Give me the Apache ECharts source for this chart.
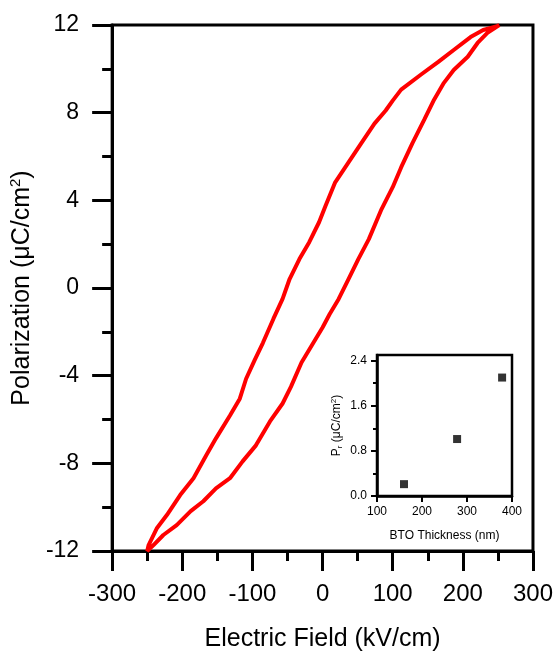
<!DOCTYPE html>
<html>
<head>
<meta charset="utf-8">
<script src="https://cdn.jsdelivr.net/npm/echarts@6/dist/echarts.min.js"></script>
<style>
html,body{margin:0;padding:0;background:#fff;}
#c{width:556px;height:657px;}
</style>
</head>
<body>
<div id="c"></div>
<script>
// Hysteresis loop: upper branch (field decreasing), then lower branch (field increasing)
var upperBranch = [
  [252,12.0],[249,11.95],[229,11.77],[211,11.45],[187,10.86],[165,10.32],[140,9.73],
  [112,9.05],[100,8.55],[90,8.1],[74,7.5],[56,6.64],[37,5.73],[18,4.82],[4,3.73],
  [-5,3.0],[-19,2.09],[-33,1.32],[-47,0.41],[-57,-0.5],[-70,-1.4],[-85,-2.5],
  [-97,-3.3],[-109,-4.14],[-118,-5.05],[-132,-5.82],[-152,-6.86],[-166,-7.64],
  [-184,-8.68],[-203,-9.45],[-222,-10.36],[-236,-10.95],[-248,-11.73],[-250,-12]
];
var lowerBranch = [
  [-250,-12],[-241,-11.73],[-227,-11.27],[-208,-10.82],[-188,-10.18],[-170,-9.73],
  [-152,-9.14],[-132,-8.68],[-114,-7.91],[-95,-7.18],[-75,-6.09],[-57,-5.27],
  [-45,-4.5],[-30,-3.4],[-15,-2.6],[0,-1.8],[10,-1.2],[23,-0.5],[37,0.41],[51,1.32],
  [66,2.23],[84,3.59],[100,4.6],[112,5.5],[128,6.6],[145,7.68],[159,8.59],[173,9.36],
  [187,9.95],[207,10.55],[221,11.18],[235,11.64],[252,12.0]
];
// Inset: remanent polarization vs BTO thickness
var thickness = [160, 278, 378];
var remanentP = [0.21, 1.01, 2.10];
var insetYMajor = [0, 0.8, 1.6, 2.4];
var insetYMinor = [0.4, 1.2, 2.0];

var FONT = 'Liberation Sans, Arial, sans-serif';
var chart = echarts.init(document.getElementById('c'), null, {renderer:'canvas'});
var loop = upperBranch.concat(lowerBranch);
var insetData = thickness.map(function(t,i){return [t, remanentP[i]];});

chart.setOption({
  animation:false,
  backgroundColor:'#fff',
  grid:[
    {left:108, top:25, width:426, height:528, show:true, borderColor:'#000', borderWidth:3},
    {left:377, top:355, width:135, height:141, show:true, borderColor:'#000', borderWidth:2.5}
  ],
  xAxis:[
    {type:'value', gridIndex:0, min:-300, max:300, interval:100, position:'bottom',
     axisLine:{show:true, onZero:false, lineStyle:{color:'#000', width:3}},
     axisTick:{show:true, inside:false, length:20, lineStyle:{color:'#000', width:3}},
     minorTick:{show:true, splitNumber:2, length:10, lineStyle:{color:'#000', width:3}},
     splitLine:{show:false},
     axisLabel:{fontSize:24, color:'#000', fontFamily:FONT, margin:31},
     name:'Electric Field (kV/cm)', nameLocation:'middle', nameGap:76,
     nameTextStyle:{fontSize:25, color:'#000', fontFamily:FONT}},
    {type:'value', gridIndex:1, min:100, max:400, interval:100, position:'bottom',
     axisLine:{show:true, onZero:false, lineStyle:{color:'#000', width:2.5}},
     axisTick:{show:true, inside:false, length:6, lineStyle:{color:'#000', width:2}},
     splitLine:{show:false},
     axisLabel:{fontSize:12, color:'#000', fontFamily:FONT, margin:10},
     name:'BTO Thickness (nm)', nameLocation:'middle', nameGap:34,
     nameTextStyle:{fontSize:12, color:'#000', fontFamily:FONT}}
  ],
  yAxis:[
    {type:'value', gridIndex:0, min:-12, max:12, interval:4, position:'left',
     axisLine:{show:true, onZero:false, lineStyle:{color:'#000', width:3}},
     axisTick:{show:true, inside:false, length:20, lineStyle:{color:'#000', width:3}},
     minorTick:{show:true, splitNumber:2, length:10, lineStyle:{color:'#000', width:3}},
     splitLine:{show:false},
     axisLabel:{fontSize:23, color:'#000', fontFamily:FONT, margin:33},
     name:'{a|Polarization (μC/cm}{s|2}{a|)}', nameLocation:'middle', nameGap:67,
     nameTextStyle:{fontSize:25, color:'#000', fontFamily:FONT,
       rich:{a:{fontSize:25, color:'#000', fontFamily:FONT},
             s:{fontSize:15, color:'#000', fontFamily:FONT, padding:[0,0,14,0]}}}},
    {type:'value', gridIndex:1, min:0, max:2.5, position:'left',
     axisLine:{show:true, onZero:false, lineStyle:{color:'#000', width:2.5}},
     axisTick:{show:true, inside:false, length:6, customValues:insetYMajor, lineStyle:{color:'#000', width:2}},
     splitLine:{show:false},
     axisLabel:{fontSize:12, color:'#000', fontFamily:FONT, margin:10, customValues:insetYMajor,
       formatter:function(v){return v.toFixed(1);}},
     name:'{a|P}{r|r}{a| (μC/cm}{s|2}{a|)}', nameLocation:'middle', nameGap:33,
     nameTextStyle:{fontSize:12, color:'#000', fontFamily:FONT,
       rich:{a:{fontSize:12, color:'#000', fontFamily:FONT},
             r:{fontSize:8, color:'#000', fontFamily:FONT, padding:[6,0,0,0]},
             s:{fontSize:8, color:'#000', fontFamily:FONT, padding:[0,0,6,0]}}}},
    {type:'value', gridIndex:1, min:0, max:2.5, position:'left',
     axisLine:{show:false, onZero:false},
     axisTick:{show:true, inside:false, length:4, customValues:insetYMinor, lineStyle:{color:'#000', width:2}},
     splitLine:{show:false},
     axisLabel:{show:false}}
  ],
  series:[
    {type:'line', xAxisIndex:0, yAxisIndex:0, data:loop, showSymbol:false,
     lineStyle:{color:'#ff0000', width:4}, z:3},
    {type:'scatter', xAxisIndex:1, yAxisIndex:1, data:insetData, symbol:'rect', symbolSize:8,
     itemStyle:{color:'#000'}}
  ]
});
</script>
</body>
</html>
